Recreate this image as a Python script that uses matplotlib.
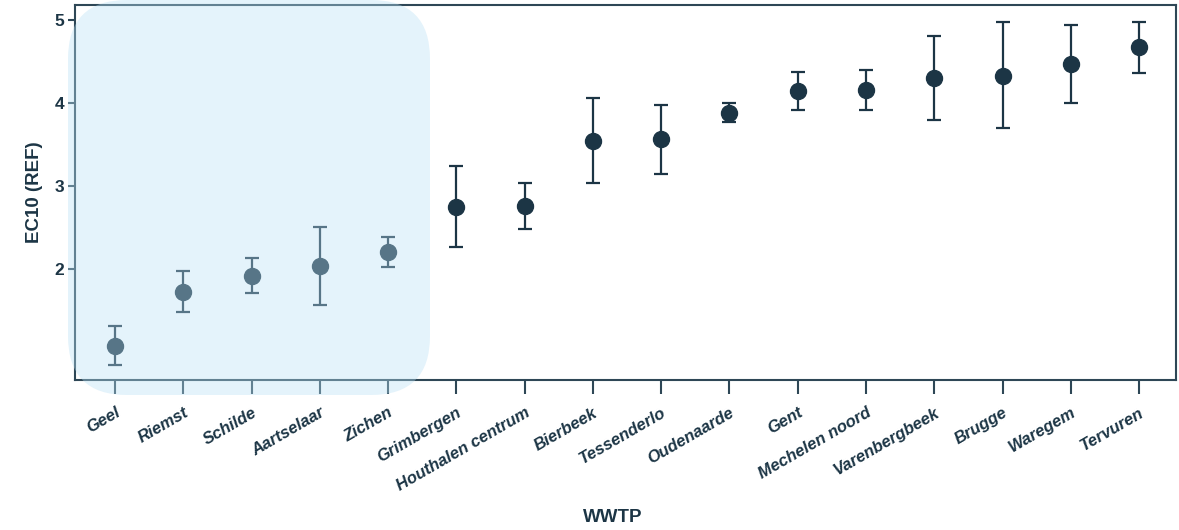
import matplotlib.pyplot as plt
from matplotlib.patches import FancyBboxPatch
import numpy as np

plt.rcParams['font.family'] = ['Liberation Sans', 'DejaVu Sans']

# --- dati ---
wwtp = ['Geel', 'Riemst', 'Schilde', 'Aartselaar', 'Zichen', 'Grimbergen',
        'Houthalen centrum', 'Bierbeek', 'Tessenderlo', 'Oudenaarde', 'Gent',
        'Mechelen noord', 'Varenbergbeek', 'Brugge', 'Waregem', 'Tervuren']
ec10 = [1.07, 1.72, 1.92, 2.04, 2.21, 2.75, 2.76, 3.54, 3.56, 3.88, 4.14,
        4.16, 4.30, 4.33, 4.47, 4.67]
ec10_low = [0.84, 1.48, 1.71, 1.57, 2.03, 2.26, 2.48, 3.04, 3.14, 3.77, 3.92,
            3.91, 3.80, 3.70, 4.00, 4.36]
ec10_high = [1.31, 1.97, 2.13, 2.50, 2.39, 3.24, 3.04, 4.06, 3.98, 4.00, 4.37,
             4.40, 4.81, 4.97, 4.94, 4.98]
yticks = [2, 3, 4, 5]

navy = '#1c3545'
spine_col = '#2e4756'

fig = plt.figure(figsize=(11.79, 5.30), dpi=100)
ax = fig.add_axes([75 / 1179, 150 / 530, 1101 / 1179, 375 / 530])

x = np.arange(len(wwtp))
y = np.array(ec10)
yerr = [y - np.array(ec10_low), np.array(ec10_high) - y]
ax.errorbar(x, y, yerr=yerr, fmt='o', color=navy, ecolor=navy,
            markersize=11.5, elinewidth=1.6, capsize=4.8, capthick=1.6, zorder=3)

ax.set_xlim(-0.586, 15.54)
ax.set_ylim(0.663, 5.18)
ax.set_yticks(yticks)
ax.set_yticklabels([str(t) for t in yticks], fontsize=12.5, fontweight='bold', color=navy)
ax.set_xticks(x)
ax.set_xticklabels(wwtp, rotation=30, ha='right', rotation_mode='anchor',
                   fontsize=12, fontweight='bold', fontstyle='italic', color=navy)
ax.tick_params(axis='x', length=10, width=1.5, color=spine_col, pad=8)
ax.tick_params(axis='y', length=5, width=1.5, color=spine_col, pad=3)
for s in ax.spines.values():
    s.set_color(spine_col)
    s.set_linewidth(1.5)

ax.set_ylabel('EC10 (REF)', fontsize=13.5, fontweight='bold', color=navy, labelpad=8)
fig.text(613 / 1179, 12 / 530, 'WWTP', fontsize=13.5, fontweight='bold',
         color=navy, ha='center', va='center')

# riquadro evidenziato (primi 5 impianti)
box = FancyBboxPatch((68 / 1179, 135 / 530), 362 / 1179, 395 / 530,
                     boxstyle='round,pad=0,rounding_size=0.05',
                     transform=fig.transFigure, facecolor='#b8e0f5', alpha=0.38,
                     edgecolor='none', zorder=10, mutation_aspect=1179 / 530)
fig.patches.append(box)

plt.savefig('out.png', dpi=100)
